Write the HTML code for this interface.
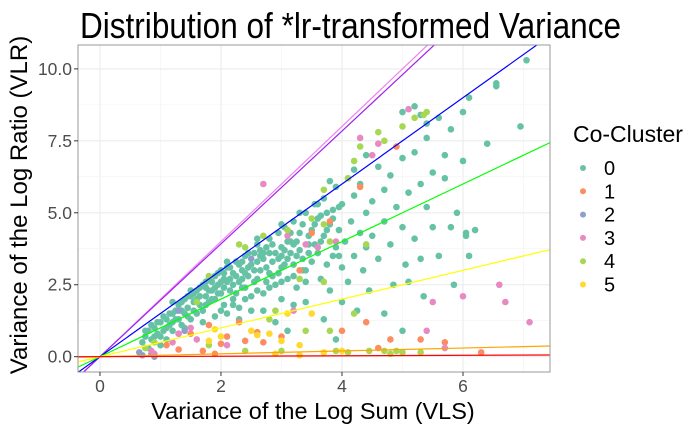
<!DOCTYPE html>
<html><head><meta charset="utf-8"><style>
body{margin:0;background:#fff;}
svg{display:block;font-family:"Liberation Sans",sans-serif;}
</style></head><body>
<svg id="chart" width="700" height="432">
<text x="80" y="38" font-size="36" textLength="541" lengthAdjust="spacingAndGlyphs" fill="#000">Distribution of *lr-transformed Variance</text>
<g id="grid"></g>
<g id="pts"></g>
<g id="lines"></g>
<rect x="78" y="45" width="472" height="327" fill="none" stroke="#999" stroke-width="1"/>
<g id="axes"></g>
<text x="313" y="419" font-size="23.5" text-anchor="middle" fill="#000">Variance of the Log Sum (VLS)</text>
<text transform="translate(27,205) rotate(-90)" font-size="24" text-anchor="middle" fill="#000">Variance of the Log Ratio (VLR)</text>
<text x="573" y="142" font-size="23" fill="#000">Co-Cluster</text>
<g id="legend"></g>
</svg>
<script>
const xTicks=[0,2,4,6];
const yTicks=[0,2.5,5,7.5,10];
const yTickLabels=["0.0","2.5","5.0","7.5","10.0"];
const clusterNames=["0","1","2","3","4","5"];
const clusterColors=["#66C2A5","#FC8D62","#8DA0CB","#E78AC3","#A6D854","#FFD92F"];
const lineSlopes=[2.0,1.96,1.5,1.0,0.5,0.05,0.008];
const lineColors=["#EE82EE","#A020F0","#0000FF","#00FF00","#FFFF00","#FFA500","#FF0000"];
const cluster0=[[0.7,0.5],[0.75,0.7],[0.8,0.9],[0.85,0.6],[0.9,1.0],[0.95,0.8],[1.0,1.2],[1.0,0.7],[1.05,1.4],[1.1,1.0],[1.15,1.5],[1.2,1.2],[1.2,0.9],[1.25,1.6],[1.3,1.3],[1.3,1.8],[1.35,1.1],[1.4,1.5],[1.4,2.0],[1.45,1.7],[1.5,1.3],[1.5,2.1],[0.8,0.3],[1.0,0.4],[1.1,0.6],[1.3,0.8],[1.4,1.0],[0.9,0.7],[1.1,1.3],[1.2,1.5],[1.35,1.6],
[1.55,1.9],[1.6,1.5],[1.6,2.3],[1.65,1.8],[1.7,2.5],[1.7,1.6],[1.75,2.1],[1.8,2.7],[1.8,1.9],[1.85,2.3],[1.9,2.0],[1.9,2.8],[1.95,2.5],[2.0,2.2],[2.0,3.0],[2.05,1.8],[2.1,2.6],[2.1,3.1],[2.15,2.3],[2.2,2.9],[2.2,2.0],[2.25,3.3],[2.3,2.6],[2.3,1.7],[2.35,3.0],[2.4,2.4],[2.4,3.5],[2.45,2.8],[2.5,3.2],[2.5,2.1],[1.7,1.2],[1.9,1.4],[2.1,1.5],[2.3,1.3],[2.5,1.6],[1.6,2.0],[1.8,2.3],[2.0,2.6],[2.2,2.5],[2.4,2.9],[2.6,3.3],
[2.55,3.6],[2.6,2.7],[2.6,3.9],[2.65,3.0],[2.7,3.4],[2.7,2.2],[2.75,3.8],[2.8,2.9],[2.8,4.1],[2.85,3.3],[2.9,3.6],[2.9,2.5],[2.95,4.3],[3.0,3.1],[3.0,3.8],[3.0,2.0],[3.05,4.5],[3.1,3.4],[3.1,2.7],[3.15,4.0],[3.2,3.2],[3.2,4.7],[3.25,2.4],[3.3,3.7],[3.3,4.3],[3.35,3.0],[3.4,5.0],[3.4,2.6],[3.45,3.9],[3.5,4.4],[3.5,3.3],[2.7,1.6],[2.9,1.2],[3.2,1.8],[3.1,0.9],[3.4,1.9],[2.8,3.6],[3.0,3.5],[3.2,3.9],
[3.55,5.3],[3.6,3.6],[3.6,4.8],[3.65,2.7],[3.7,4.2],[3.7,5.5],[3.75,3.2],[3.8,4.6],[3.8,2.3],[3.85,5.1],[3.9,3.8],[3.9,5.9],[3.95,4.4],[4.0,3.1],[4.0,5.3],[4.05,4.0],[4.1,6.2],[4.1,2.6],[4.15,4.7],[4.2,3.5],[4.2,5.6],[4.25,1.6],[4.3,4.3],[4.3,6.0],[4.35,3.0],[4.4,5.0],[4.4,3.8],[4.45,2.3],[4.5,5.4],[4.5,4.2],[3.7,1.3],[3.9,0.6],[4.0,1.9],
[4.6,6.6],[4.6,3.4],[4.7,5.8],[4.7,4.7],[4.8,3.9],[4.8,6.3],[4.85,2.5],[4.9,5.2],[5.0,4.5],[5.0,6.9],[5.05,3.2],[5.1,5.7],[5.1,2.6],[5.2,4.1],[5.2,7.1],[5.3,6.0],[5.3,3.4],[5.35,2.1],[5.4,5.2],[5.4,7.6],[5.5,4.5],[5.5,6.4],[4.7,1.5],[5.0,0.9],
[5.6,8.3],[5.6,3.5],[5.7,7.0],[5.7,6.2],[5.8,4.5],[5.8,7.9],[5.85,2.5],[5.9,5.0],[6.0,8.5],[6.0,6.8],[6.05,4.3],[6.1,9.0],[6.1,3.5],[6.2,4.4],[6.4,7.4],[6.55,9.5],[6.55,9.4],[6.95,8.0],[7.05,10.3],[6.05,4.2],
[1.2,1.9],[1.5,2.3],[2.1,3.3],[2.6,4.1],[3.0,4.6],[3.3,5.0],[3.6,5.3],[3.8,6.1],[4.4,7.0],[4.2,6.5],[5.0,8.5],[5.2,8.7],[5.3,8.4],[5.4,8.1],
[0.75,0.9],[0.85,1.1],[0.95,1.2],[1.05,0.9],[1.15,1.1],[1.25,1.3],[1.35,1.9],[1.45,1.4],[1.55,1.6],[1.55,2.2],[1.65,2.1],[1.65,2.4],[1.75,1.8],[1.75,2.6],[1.85,2.0],[1.85,2.6],[1.95,2.2],[1.95,2.9],[2.05,2.4],[2.05,2.9],[2.15,2.7],[2.15,3.1],[2.25,2.2],[2.25,2.8],[2.35,2.4],[2.35,3.3],[2.45,3.1],[2.45,3.6],[2.55,2.6],[2.55,3.0],[2.65,3.5],[2.65,3.7],[2.75,3.1],[2.75,2.6],[2.85,3.9],[2.85,2.8],[2.95,3.4],[2.95,2.9],[3.05,3.7],[3.05,3.2],[3.15,4.3],[3.15,3.6],[3.25,4.0],[3.25,3.5],[3.35,4.6],[3.35,3.4],[3.45,4.2],[3.45,3.6],[3.55,4.6],[3.55,3.9],[3.65,4.9],[3.65,4.0],[3.75,4.4],[3.75,5.0],[3.85,4.8],[3.85,3.5],[3.95,5.2],[3.95,3.5],[2.0,1.6],[2.2,1.8],[2.4,2.0],[2.6,2.3],[2.8,2.4],[3.0,2.6],[3.2,2.8],[3.4,3.0],[1.9,2.4],[2.3,3.2],[2.7,3.6],[3.1,4.0],[1.45,2.1],[1.75,2.4],[2.05,2.7],[2.35,2.7]];
const cluster1=[[1.1,0.4],[1.3,0.25],[1.5,0.8],[1.7,0.2],[1.8,1.1],[2.0,0.45],[2.1,0.7],[2.3,1.2],[2.4,0.55],[2.7,0.5],[3.0,0.7],[3.3,3.0],[3.8,4.7],[3.5,4.3],[4.4,1.2],[4.6,0.3],[4.0,0.9],[4.8,0.6],[5.3,0.6],[5.7,0.5],[6.3,0.15],[4.9,7.3],[1.9,0.1],[2.6,0.85],[4.3,5.9]];
const cluster2=[[0.65,0.15],[0.7,0.05],[0.85,0.1],[0.9,0.0],[1.3,1.6],[2.5,3.4],[1.4,0.9]];
const cluster3=[[0.85,0.2],[0.9,0.1],[1.2,0.5],[1.3,0.8],[1.5,1.0],[1.6,0.6],[2.1,0.4],[2.7,6.0],[3.1,4.2],[3.4,3.9],[3.9,4.0],[4.5,7.0],[4.3,7.6],[4.6,7.4],[5.1,8.6],[5.5,1.9],[5.4,0.9],[6.6,2.5],[6.0,2.1],[6.7,1.9],[7.1,1.2],[5.7,0.3],[3.6,3.8],[3.2,1.6]];
const cluster4=[[0.75,0.3],[0.9,0.5],[1.6,1.9],[1.8,2.8],[2.4,3.8],[2.3,3.9],[2.7,4.2],[3.1,4.4],[3.7,5.8],[3.5,4.8],[4.1,6.2],[4.2,6.8],[4.3,7.3],[4.7,7.5],[4.6,7.8],[5.0,8.0],[5.2,8.3],[5.35,8.4],[5.4,8.5],[3.7,4.6],[3.8,4.0],[4.4,3.9],[3.7,2.6],[3.3,2.7],[2.9,1.6],[2.8,1.3],[2.4,0.2],[3.8,0.9],[4.2,1.5],[4.45,0.2],[4.7,0.2],[4.9,0.2],[5.0,0.15],[5.3,0.15],[4.1,0.15],[3.0,0.2],[3.4,0.9],[1.8,0.4],[4.8,0.1],[3.9,0.2]];
const cluster5=[[1.8,0.55],[2.0,0.7],[2.5,0.9],[2.6,0.75],[2.8,0.8],[3.1,1.5],[3.0,0.55],[3.3,0.4],[3.7,0.15],[4.0,0.2],[2.9,0.1],[3.3,0.05],[3.5,1.5],[1.9,0.95]];
const clusters=[cluster0,cluster1,cluster2,cluster3,cluster4,cluster5];

const X0=78,X1=550,Y0=45,Y1=372;
const xMin=-0.363,xMax=7.438,yMin=-0.532,yMax=10.83;
const sx=v=>X0+(v-xMin)/(xMax-xMin)*(X1-X0);
const sy=v=>Y1-(v-yMin)/(yMax-yMin)*(Y1-Y0);
const NS="http://www.w3.org/2000/svg";
function mk(tag,attrs,parent){const e=document.createElementNS(NS,tag);for(const k in attrs)e.setAttribute(k,attrs[k]);parent.appendChild(e);return e;}
const grid=document.getElementById('grid');
mk('rect',{x:X0,y:Y0,width:X1-X0,height:Y1-Y0,fill:'#fff'},grid);
for(let i=0;i<xTicks.length;i++){
  const m=xTicks[i]-1;
  if(m>xMin){const g=mk('line',{x1:sx(m),x2:sx(m),y1:Y0,y2:Y1,stroke:'#f2f2f2','stroke-width':0.6},grid);
  
  }
  const l=mk('line',{x1:sx(xTicks[i]),x2:sx(xTicks[i]),y1:Y0,y2:Y1,stroke:'#ebebeb','stroke-width':1.1},grid);
  
  
}
{const m=xTicks[xTicks.length-1]+1;const g=mk('line',{x1:sx(m),x2:sx(m),y1:Y0,y2:Y1,stroke:'#f2f2f2','stroke-width':0.6},grid);

}
for(let i=0;i<yTicks.length;i++){
  const m=yTicks[i]+1.25;
  if(m<yMax){const g=mk('line',{x1:X0,x2:X1,y1:sy(m),y2:sy(m),stroke:'#f2f2f2','stroke-width':0.6},grid);
  
  }
  const l=mk('line',{x1:X0,x2:X1,y1:sy(yTicks[i]),y2:sy(yTicks[i]),stroke:'#ebebeb','stroke-width':1.1},grid);
  
  
}
const pts=document.getElementById('pts');
clusters.forEach((arr,ci)=>{
  arr.forEach(p=>{
    const c=mk('circle',{cx:sx(p[0]),cy:sy(p[1]),r:3.3,fill:clusterColors[ci]},pts);
    
    
  });
});
const lines=document.getElementById('lines');
const cp=mk('clipPath',{id:'clip'},lines);
mk('rect',{x:X0,y:Y0,width:X1-X0,height:Y1-Y0},cp);
lineSlopes.forEach((s,i)=>{
  const l=mk('line',{x1:sx(xMin),y1:sy(s*xMin),x2:sx(xMax),y2:sy(s*xMax),stroke:lineColors[i],'stroke-width':1.2,'clip-path':'url(#clip)'},lines);
  
  
});
const axes=document.getElementById('axes');
xTicks.forEach(t=>{
  mk('line',{x1:sx(t),x2:sx(t),y1:Y1,y2:Y1+4,stroke:'#333','stroke-width':1},axes);
  const tx=mk('text',{x:sx(t),y:Y1+20,'font-size':17.5,'text-anchor':'middle',fill:'#4d4d4d'},axes);
  tx.textContent=t;
  
  
});
yTicks.forEach((t,i)=>{
  mk('line',{x1:X0-4,x2:X0,y1:sy(t),y2:sy(t),stroke:'#333','stroke-width':1},axes);
  const tx=mk('text',{x:X0-6,y:sy(t)+6,'font-size':17.5,'text-anchor':'end',fill:'#4d4d4d'},axes);
  tx.textContent=yTickLabels[i];
  
  
});
const leg=document.getElementById('legend');
clusterNames.forEach((n,i)=>{
  const y=168+i*23.3;
  const g=mk('g',{},leg);
  
  
  mk('circle',{cx:583,cy:y,r:3,fill:clusterColors[i]},g);
  const t=mk('text',{x:604,y:y+7,'font-size':20,fill:'#000'},g);
  t.textContent=n;
});
</script>
</body></html>
